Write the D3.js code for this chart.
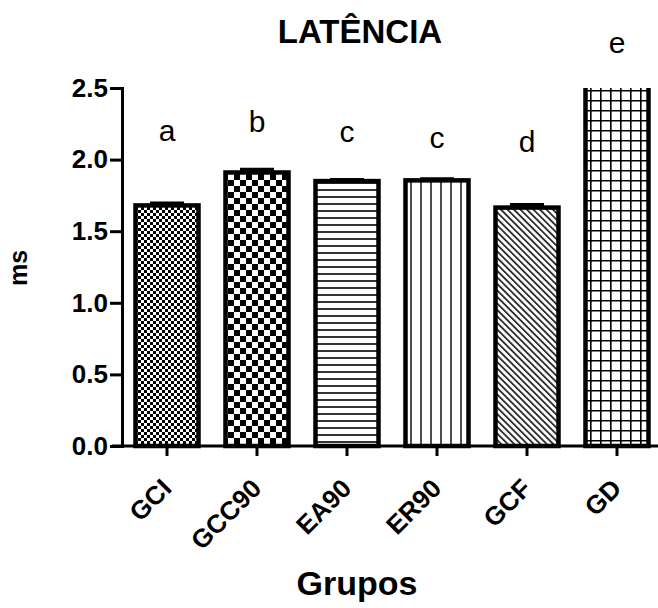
<!DOCTYPE html>
<html>
<head>
<meta charset="utf-8">
<script src="https://cdn.jsdelivr.net/npm/d3@7"></script>
<style>
  body { margin: 0; background: #fff; }
  text { font-family: "Liberation Sans", Arial, sans-serif; fill: #000; }
</style>
</head>
<body>
<div id="chart"></div>
<script>
const groups = ['GCI', 'GCC90', 'EA90', 'ER90', 'GCF', 'GD'];
const means = [1.68, 1.91, 1.85, 1.855, 1.665, 2.6];
const errors = [0.015, 0.02, 0.01, 0.01, 0.02, 0];
const letters = ['a', 'b', 'c', 'c', 'd', 'e'];
// height (in ms) of each significance letter's baseline
const letterPos = [2.13, 2.19, 2.12, 2.08, 2.05, 2.745];
const yTicks = [0, 0.5, 1.0, 1.5, 2.0, 2.5];
const patterns = ['checkSmall', 'checkBig', 'hlines', 'vlines', 'diag', 'grid'];

const width = 658, height = 608;
const margin = { top: 88, right: -4, bottom: 162, left: 122 };

const svg = d3.select('#chart').append('svg')
    .attr('width', width)
    .attr('height', height);

// fill patterns
const defs = svg.append('defs');

let p = defs.append('pattern').attr('id', 'checkSmall').attr('patternUnits', 'userSpaceOnUse')
    .attr('width', 6).attr('height', 6);
p.append('rect').attr('width', 6).attr('height', 6).attr('fill', '#fff');
p.append('rect').attr('width', 3).attr('height', 3).attr('fill', '#000');
p.append('rect').attr('x', 3).attr('y', 3).attr('width', 3).attr('height', 3).attr('fill', '#000');

p = defs.append('pattern').attr('id', 'checkBig').attr('patternUnits', 'userSpaceOnUse')
    .attr('width', 12).attr('height', 12);
p.append('rect').attr('width', 12).attr('height', 12).attr('fill', '#fff');
p.append('rect').attr('width', 6).attr('height', 6).attr('fill', '#000');
p.append('rect').attr('x', 6).attr('y', 6).attr('width', 6).attr('height', 6).attr('fill', '#000');

p = defs.append('pattern').attr('id', 'hlines').attr('patternUnits', 'userSpaceOnUse')
    .attr('width', 8).attr('height', 7);
p.append('rect').attr('width', 8).attr('height', 7).attr('fill', '#fff');
p.append('line').attr('x1', 0).attr('x2', 8).attr('y1', 1).attr('y2', 1)
    .attr('stroke', '#000').attr('stroke-width', 1.6);

p = defs.append('pattern').attr('id', 'vlines').attr('patternUnits', 'userSpaceOnUse')
    .attr('width', 10).attr('height', 8);
p.append('rect').attr('width', 10).attr('height', 8).attr('fill', '#fff');
p.append('line').attr('x1', 1).attr('x2', 1).attr('y1', 0).attr('y2', 8)
    .attr('stroke', '#000').attr('stroke-width', 1.4);

p = defs.append('pattern').attr('id', 'diag').attr('patternUnits', 'userSpaceOnUse')
    .attr('width', 4.6).attr('height', 4.6).attr('patternTransform', 'rotate(45)');
p.append('rect').attr('width', 4.6).attr('height', 4.6).attr('fill', '#fff');
p.append('line').attr('x1', 0).attr('x2', 4.6).attr('y1', 1).attr('y2', 1)
    .attr('stroke', '#000').attr('stroke-width', 1.5);

p = defs.append('pattern').attr('id', 'grid').attr('patternUnits', 'userSpaceOnUse')
    .attr('width', 10).attr('height', 10);
p.append('rect').attr('width', 10).attr('height', 10).attr('fill', '#fff');
p.append('path').attr('d', 'M0,0.8H10M0.8,0V10')
    .attr('stroke', '#000').attr('stroke-width', 1.6).attr('fill', 'none');

const x = d3.scaleBand()
    .domain(groups)
    .range([margin.left, width - margin.right])
    .paddingInner(0.3)
    .paddingOuter(0.15);

const y = d3.scaleLinear()
    .domain([0, 2.5])
    .range([height - margin.bottom, margin.top]);

// clip bars at the top of the axis
defs.append('clipPath').attr('id', 'plotClip')
    .append('rect')
    .attr('x', 0).attr('y', y(2.5))
    .attr('width', width).attr('height', y(0) - y(2.5) + 10);

const g = svg.append('g').attr('clip-path', 'url(#plotClip)');

// bars
g.selectAll('rect.bar')
    .data(groups)
    .enter().append('rect')
    .attr('class', 'bar')
    .attr('x', d => x(d))
    .attr('width', x.bandwidth())
    .attr('y', (d, i) => y(means[i]))
    .attr('height', (d, i) => y(0) - y(means[i]))
    .attr('fill', (d, i) => `url(#${patterns[i]})`)
    .attr('stroke', '#000')
    .attr('stroke-width', 4.5);

// error bars (upper only)
const capW = 17;
g.selectAll('path.err')
    .data(groups)
    .enter().append('path')
    .attr('class', 'err')
    .attr('d', (d, i) => {
        if (!errors[i]) return null;
        const cx = x(d) + x.bandwidth() / 2;
        return `M${cx},${y(means[i])}V${y(means[i] + errors[i])}M${cx - capW},${y(means[i] + errors[i])}H${cx + capW}`;
    })
    .attr('stroke', '#000')
    .attr('stroke-width', 3.5)
    .attr('fill', 'none');

// significance letters
svg.selectAll('text.letter')
    .data(groups)
    .enter().append('text')
    .attr('class', 'letter')
    .attr('x', d => x(d) + x.bandwidth() / 2)
    .attr('y', (d, i) => y(letterPos[i]))
    .attr('text-anchor', 'middle')
    .style('font-size', '30px')
    .text((d, i) => letters[i]);

// y axis
const yAxis = svg.append('g')
    .attr('transform', `translate(${margin.left},0)`)
    .call(d3.axisLeft(y).tickValues(yTicks).tickFormat(d3.format('.1f')).tickSizeOuter(0).tickSize(12).tickPadding(2));
yAxis.select('.domain').attr('stroke-width', 3);
yAxis.selectAll('.tick line').attr('stroke-width', 3);
yAxis.selectAll('.tick text').style('font-size', '26px').style('font-weight', 'bold');

// x axis
const xAxis = svg.append('g')
    .attr('transform', `translate(0,${y(0)})`)
    .call(d3.axisBottom(x).tickSizeOuter(0).tickSize(10));
xAxis.select('.domain').attr('stroke-width', 3)
    .attr('d', `M${margin.left - 10},0H${width}`);
xAxis.selectAll('.tick line').attr('stroke-width', 3);
xAxis.selectAll('.tick text')
    .style('font-size', '26px')
    .style('font-weight', 'bold')
    .attr('text-anchor', 'end')
    .attr('x', 0).attr('y', 0).attr('dy', 0)
    .attr('transform', 'translate(6,44) rotate(-45)');

// titles
svg.append('text')
    .attr('x', 360).attr('y', 43)
    .attr('text-anchor', 'middle')
    .style('font-size', '33px').style('font-weight', 'bold')
    .text('LATÊNCIA');

svg.append('text')
    .attr('transform', 'translate(27,268) rotate(-90)')
    .attr('text-anchor', 'middle')
    .style('font-size', '25px').style('font-weight', 'bold')
    .text('ms');

svg.append('text')
    .attr('x', 357).attr('y', 595)
    .attr('text-anchor', 'middle')
    .style('font-size', '34px').style('font-weight', 'bold')
    .text('Grupos');
</script>
</body>
</html>
